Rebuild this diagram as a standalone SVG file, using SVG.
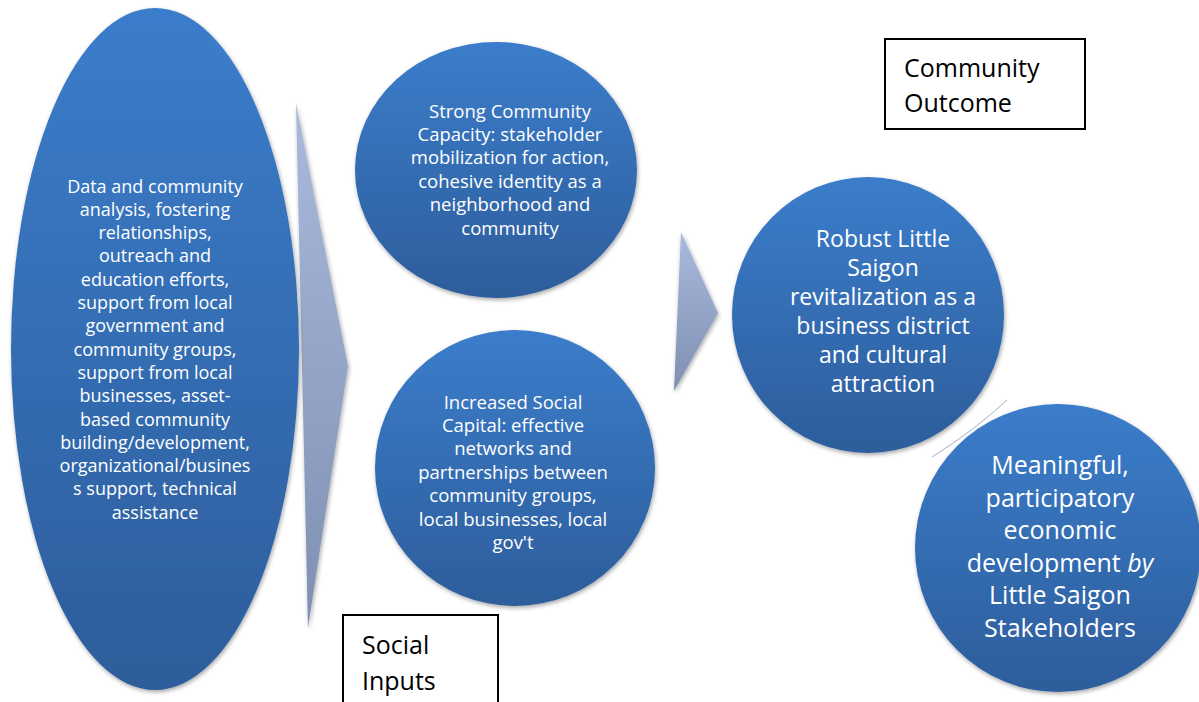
<svg xmlns="http://www.w3.org/2000/svg" width="1199" height="702" viewBox="0 0 1199 702">
<defs>
<linearGradient id="blue" x1="0" y1="0" x2="0" y2="1">
<stop offset="0" stop-color="#3b7dcb"/>
<stop offset="1" stop-color="#2d5d9b"/>
</linearGradient>
<linearGradient id="arr" x1="0" y1="0" x2="0" y2="1">
<stop offset="0" stop-color="#a9badc"/>
<stop offset="1" stop-color="#7f8fb1"/>
</linearGradient>
<filter id="sh" x="-10%" y="-10%" width="120%" height="120%">
<feDropShadow dx="1" dy="2" stdDeviation="2" flood-color="#000" flood-opacity="0.35"/>
</filter>
<style>
.node{fill:url(#blue);filter:url(#sh)}
.arrow{fill:url(#arr);filter:url(#sh)}
.t{font-family:"Open Sans","DejaVu Sans",sans-serif;fill:#fff;text-anchor:middle}
.xs{font-size:18px}
.s{font-size:18.5px}
.m{font-size:23px}
.l{font-size:25px}
.box{fill:#fff;stroke:#000;stroke-width:2}
.bt{font-family:"Open Sans","DejaVu Sans",sans-serif;font-size:25px;fill:#000}
</style>
</defs>
<rect width="1199" height="702" fill="#fff"/>
<g id="connectors">
<path class="arrow" d="M296,103 L348,366 L308,628 Z"/>
<path class="arrow" d="M681,232 L718,313 L674,391 Z"/>
</g>
<g id="inputs">
<ellipse class="node" cx="155" cy="349" rx="144" ry="341"/>
<text class="t xs"><tspan x="155" y="192.5">Data and community</tspan><tspan x="155" y="215.8">analysis, fostering</tspan><tspan x="155" y="239.1">relationships,</tspan><tspan x="155" y="262.4">outreach and</tspan><tspan x="155" y="285.7">education efforts,</tspan><tspan x="155" y="309">support from local</tspan><tspan x="155" y="332.3">government and</tspan><tspan x="155" y="355.6">community groups,</tspan><tspan x="155" y="378.9">support from local</tspan><tspan x="155" y="402.2">businesses, asset-</tspan><tspan x="155" y="425.5">based community</tspan><tspan x="155" y="448.8">building/development,</tspan><tspan x="155" y="472.1">organizational/busines</tspan><tspan x="155" y="495.4">s support, technical</tspan><tspan x="155" y="518.7">assistance</tspan></text>
</g>
<g id="capacity">
<ellipse class="node" cx="496" cy="170" rx="141" ry="128"/>
<text class="t s"><tspan x="510" y="117.5">Strong Community</tspan><tspan x="510" y="140.9">Capacity: stakeholder</tspan><tspan x="510" y="164.3">mobilization for action,</tspan><tspan x="510" y="187.7">cohesive identity as a</tspan><tspan x="510" y="211.1">neighborhood and</tspan><tspan x="510" y="234.5">community</tspan></text>
</g>
<g id="capital">
<ellipse class="node" cx="515" cy="468" rx="140" ry="138"/>
<text class="t s"><tspan x="513" y="408.5">Increased Social</tspan><tspan x="513" y="431.9">Capital: effective</tspan><tspan x="513" y="455.3">networks and</tspan><tspan x="513" y="478.7">partnerships between</tspan><tspan x="513" y="502.1">community groups,</tspan><tspan x="513" y="525.5">local businesses, local</tspan><tspan x="513" y="548.9">gov't</tspan></text>
</g>
<g id="revitalization">
<ellipse class="node" cx="868" cy="315" rx="136" ry="138"/>
<text class="t m"><tspan x="883" y="246.5">Robust Little</tspan><tspan x="883" y="275.5">Saigon</tspan><tspan x="883" y="304.5">revitalization as a</tspan><tspan x="883" y="333.5">business district</tspan><tspan x="883" y="362.5">and cultural</tspan><tspan x="883" y="391.5">attraction</tspan></text>
</g>
<path d="M932,457 Q975,430 1007,400" fill="none" stroke="#8a9ab8" stroke-width="1" opacity="0.8"/>
<g id="participatory">
<ellipse class="node" cx="1058" cy="548" rx="143" ry="144"/>
<text class="t l"><tspan x="1060" y="474">Meaningful,</tspan><tspan x="1060" y="506.5">participatory</tspan><tspan x="1060" y="539">economic</tspan><tspan x="1060" y="571.5">development <tspan font-style="italic">by</tspan></tspan><tspan x="1060" y="604">Little Saigon</tspan><tspan x="1060" y="636.5">Stakeholders</tspan></text>
</g>
<g id="label-outcome">
<rect class="box" x="885" y="39" width="200" height="90"/>
<text class="bt"><tspan x="904" y="77">Community</tspan><tspan x="904" y="112">Outcome</tspan></text>
</g>
<g id="label-inputs">
<rect class="box" x="343" y="615" width="155" height="100"/>
<text class="bt"><tspan x="362" y="654">Social</tspan><tspan x="362" y="690">Inputs</tspan></text>
</g>
</svg>
